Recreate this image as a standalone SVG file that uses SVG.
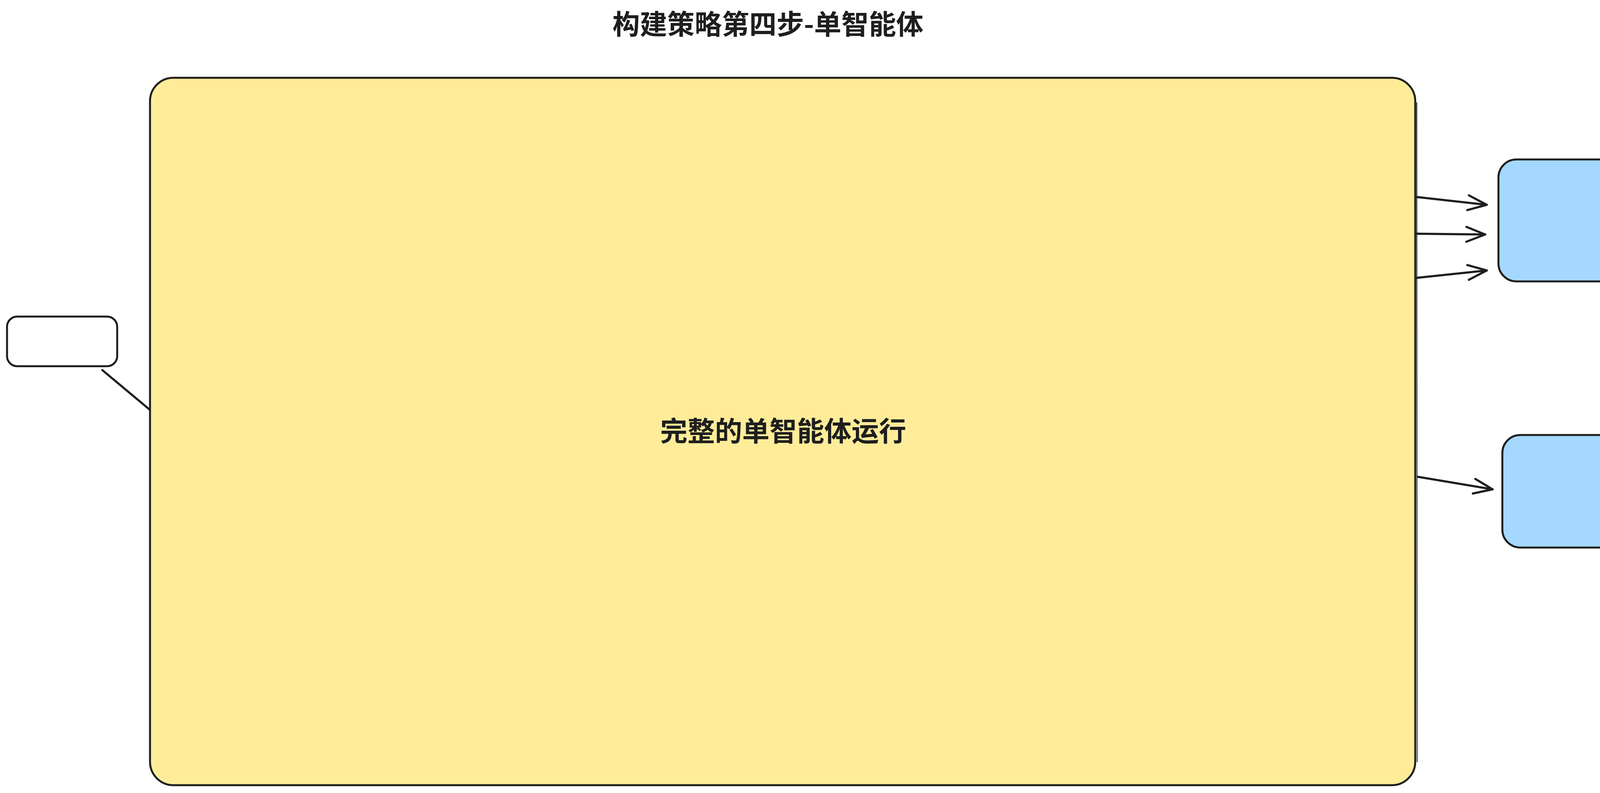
<svg xmlns="http://www.w3.org/2000/svg" width="4464" height="2029" viewBox="0 0 4464 2029">
<style>
.box{stroke:#1e1e1e;stroke-width:5;stroke-linejoin:round}
.conn{fill:none;stroke:#1e1e1e;stroke-width:5.5;stroke-linecap:round}
.t{font-family:"Noto Sans CJK SC","Noto Sans",sans-serif;fill:#1e1e1e;text-anchor:middle;dominant-baseline:central;font-weight:700}
.s{font-weight:500}
</style>
<defs>
<marker id="arr" markerUnits="userSpaceOnUse" markerWidth="80" markerHeight="60" viewBox="-60 -30 70 60" refX="0" refY="0" orient="auto">
<path d="M-48,-19 L0,0 L-48,19" fill="none" stroke="#1e1e1e" stroke-width="5.5" stroke-linecap="round" stroke-linejoin="round"/>
</marker>
</defs>
<rect width="4464" height="2029" fill="#ffffff"/>
<g id="title">
<text class="t" x="1966" y="57" font-size="70">构建策略第四步-单智能体</text>
</g>
<g id="main">
<rect class="box" x="384" y="199" width="3239" height="1810" rx="60" ry="60" fill="#ffec99"/>
<path d="M3627,262 L3628,1950" fill="none" stroke="#1e1e1e" stroke-width="2"/>
<text class="t" x="2005" y="1098" font-size="70">完整的单智能体运行</text>
</g>
<g id="input">
<rect class="box" x="18" y="810" width="282" height="127" rx="26" ry="26" fill="#ffffff"/>
</g>
<g id="output1">
<rect class="box" x="3836" y="408" width="597" height="312" rx="46" ry="46" fill="#a5d8ff"/>
<text class="t s" x="4134" y="562" font-size="37">输出</text>
</g>
<g id="output2">
<rect class="box" x="3846" y="1113" width="598" height="288" rx="46" ry="46" fill="#a5d8ff"/>
<text class="t s" x="4145" y="1255" font-size="37">输出</text>
</g>
<g id="connectors">
<path class="conn" d="M262,947 L383,1048"/>
<path class="conn" d="M3626,504 L3806,524" marker-end="url(#arr)"/>
<path class="conn" d="M3626,598 L3802,600" marker-end="url(#arr)"/>
<path class="conn" d="M3626,711 L3806,692" marker-end="url(#arr)"/>
<path class="conn" d="M3630,1220 L3821,1252" marker-end="url(#arr)"/>
</g>
</svg>
